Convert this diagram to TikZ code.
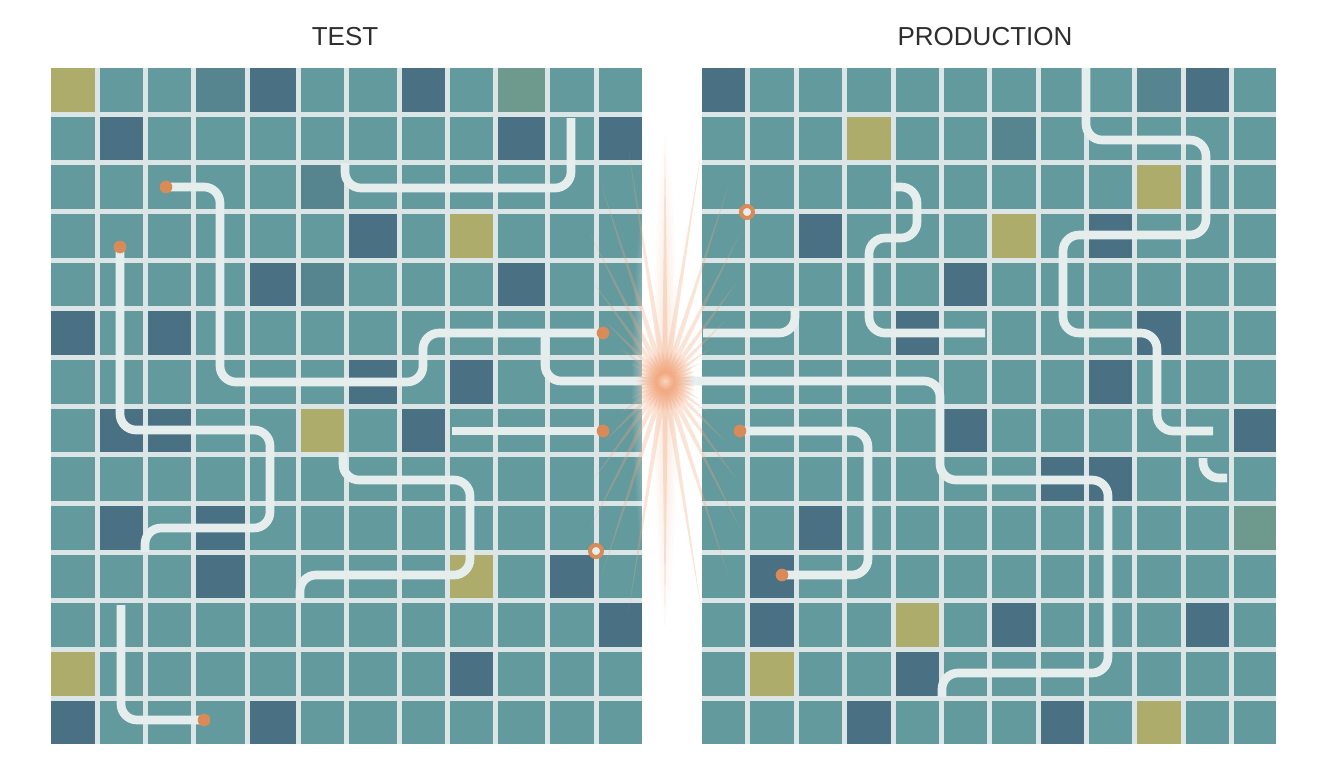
\documentclass[tikz,border=0pt]{standalone}
\usepackage{fontspec}
\setmainfont{Liberation Sans}
\usetikzlibrary{fadings}
\tikzfading[name=myglow, inner color=transparent!0, outer color=transparent!100]
\definecolor{ct}{HTML}{639A9E}
\definecolor{cm}{HTML}{56848F}
\definecolor{cd}{HTML}{4A7083}
\definecolor{co}{HTML}{ADAC6A}
\definecolor{cg}{HTML}{6E9A8E}
\definecolor{gridline}{HTML}{DCE5E6}
\definecolor{pathc}{HTML}{E5EDED}
\definecolor{dotc}{HTML}{D98A57}
\definecolor{rayc}{HTML}{F2A57A}
\definecolor{titlec}{HTML}{2E2E2E}
\def\LX{{48.5,97,145,193,247,298,346,399,447,495,547,596,644.5}}
\def\RX{{699.5,747,796,844,893,941,989,1038,1086,1134,1183,1231,1278.5}}
\newcommand\tilerow[3]{%
  \foreach \tcol [count=\tidx] in {#3} {%
    \pgfmathsetmacro\txa{#1[\tidx-1]+2.5}%
    \pgfmathsetmacro\txb{#1[\tidx]-2.5}%
    \pgfmathsetmacro\tya{65.4+48.67*(#2-1)+2.5}%
    \pgfmathsetmacro\tyb{65.4+48.67*(#2)-2.5}%
    \fill[fill=c\tcol] (\txa,\tya) rectangle (\txb,\tyb);%
  }}
\begin{document}
\begin{tikzpicture}[x=0.75pt,y=-0.75pt,
  conn/.style={draw=pathc,line width=6.5pt,rounded corners=12pt},
  dotn/.style={circle,fill=dotc,inner sep=0pt,minimum size=9.5pt},
  ringn/.style={circle,draw=dotc,line width=3pt,fill=pathc,inner sep=0pt,minimum size=9pt},
  titlen/.style={text=titlec,font=\fontsize{19.5}{22}\selectfont,inner sep=0pt}]
\useasboundingbox (0,0) rectangle (1344,768);
\fill[white] (0,0) rectangle (1344,768);
% grid backgrounds
\fill[gridline] (51,67.9) rectangle (642,744.3);
\fill[gridline] (702,67.9) rectangle (1276,744.3);
% left tiles
\tilerow{\LX}{1}{o,t,t,m,d,t,t,d,t,g,t,t}
\tilerow{\LX}{2}{t,d,t,t,t,t,t,t,t,d,t,d}
\tilerow{\LX}{3}{t,t,t,t,t,m,t,t,t,t,t,t}
\tilerow{\LX}{4}{t,t,t,t,t,t,d,t,o,t,t,t}
\tilerow{\LX}{5}{t,t,t,t,d,m,t,t,t,d,t,t}
\tilerow{\LX}{6}{d,t,d,t,t,t,t,t,t,t,t,t}
\tilerow{\LX}{7}{t,t,t,t,t,t,d,t,d,t,t,t}
\tilerow{\LX}{8}{t,d,d,t,t,o,t,d,t,t,t,t}
\tilerow{\LX}{9}{t,t,t,t,t,t,t,t,t,t,t,t}
\tilerow{\LX}{10}{t,d,t,d,t,t,t,t,t,t,t,t}
\tilerow{\LX}{11}{t,t,t,d,t,t,t,t,o,t,d,t}
\tilerow{\LX}{12}{t,t,t,t,t,t,t,t,t,t,t,d}
\tilerow{\LX}{13}{o,t,t,t,t,t,t,t,d,t,t,t}
\tilerow{\LX}{14}{d,t,t,t,d,t,t,t,t,t,t,t}
% right tiles
\tilerow{\RX}{1}{d,t,t,t,t,t,t,t,t,m,d,t}
\tilerow{\RX}{2}{t,t,t,o,t,t,m,t,t,t,t,t}
\tilerow{\RX}{3}{t,t,t,t,t,t,t,t,t,o,t,t}
\tilerow{\RX}{4}{t,t,d,t,t,t,o,t,d,t,t,t}
\tilerow{\RX}{5}{t,t,t,t,t,d,t,t,t,t,t,t}
\tilerow{\RX}{6}{t,t,t,t,d,t,t,t,t,d,t,t}
\tilerow{\RX}{7}{t,t,t,t,t,t,t,t,d,t,t,t}
\tilerow{\RX}{8}{t,t,t,t,t,d,t,t,t,t,t,d}
\tilerow{\RX}{9}{t,t,t,t,t,t,t,d,d,t,t,t}
\tilerow{\RX}{10}{t,t,d,t,t,t,t,t,t,t,t,g}
\tilerow{\RX}{11}{t,d,t,t,t,t,t,t,t,t,t,t}
\tilerow{\RX}{12}{t,d,t,t,o,t,d,t,t,t,d,t}
\tilerow{\RX}{13}{t,o,t,t,d,t,t,t,t,t,t,t}
\tilerow{\RX}{14}{t,t,t,d,t,t,t,d,t,o,t,t}
% titles
\node[titlen] (ttest) at (345,37) {TEST};
\node[titlen] (tprod) at (985,37) {PRODUCTION};
% dot positions
\coordinate (la) at (166,187);
\coordinate (lc) at (120,247);
\coordinate (lb) at (603,333);
\coordinate (lf) at (603,431);
\coordinate (lh) at (204,720);
\coordinate (lr) at (596,551);
\coordinate (rr) at (747,212);
\coordinate (ra) at (740,431);
\coordinate (rb) at (782,575);
% free ends
\coordinate (bs) at (545,333);
\coordinate (be) at (942,697);
\coordinate (cs) at (145,552);
\coordinate (ds) at (345,163);
\coordinate (de) at (571,118);
\coordinate (fs) at (452,431);
\coordinate (gs) at (343,453);
\coordinate (ge) at (300,600);
\coordinate (hs) at (121,605);
\coordinate (r2s) at (703,333);
\coordinate (r2e) at (795,308);
\coordinate (r3s) at (893,187);
\coordinate (r3e) at (985,333);
\coordinate (r6s) at (1086,68);
\coordinate (r6e) at (1213,431);
\coordinate (r7s) at (1203,458);
\coordinate (r7e) at (1227,478);
% paths left
\draw[conn] (la) -- (220,187) -- (220,382) -- (423,382) -- (423,333) -- (lb);
\draw[conn] (lc) -- (120,430) -- (270,430) -- (270,528) -- (145,528) -- (cs);
\draw[conn] (ds) -- (345,188) -- (571,188) -- (de);
\draw[conn] (fs) -- (lf);
\draw[conn] (gs) -- (343,480) -- (470,480) -- (470,575) -- (300,575) -- (ge);
\draw[conn] (hs) -- (121,720) -- (lh);
% through path
\draw[conn] (bs) -- (545,381) -- (940,381) -- (940,480) -- (1108,480) -- (1108,673) -- (942,673) -- (be);
% paths right
\draw[conn] (ra) -- (868,431) -- (868,575) -- (rb);
\draw[conn] (r2s) -- (795,333) -- (r2e);
\draw[conn] (r3s) -- (917,187) -- (917,238) -- (869,238) -- (869,333) -- (r3e);
\draw[conn] (r6s) -- (1086,140) -- (1206,140) -- (1206,235) -- (1063,235) -- (1063,333) -- (1157,333) -- (1157,431) -- (r6e);
\draw[conn] (r7s) -- (1203,478) -- (r7e);
% burst
\fill[white,path fading=myglow] (665,381) ellipse (34 and 250);
\fill[rayc,opacity=0.3,path fading=myglow] (665,381) ellipse (12 and 240);
\foreach \a in {0,9,...,351} {
  \pgfmathsetmacro\L{30+215*abs(sin(\a))^4}
  \fill[rayc,opacity=0.3,shift={(665,381)}] (\a+90:3) -- (\a:\L) -- (\a-90:3) -- cycle;
}
\fill[rayc,path fading=myglow] (665,381) circle (30);
\fill[white,opacity=0.55,path fading=myglow] (665,381) circle (9);
% dots
\node[dotn] (nla) at (la) {};
\node[dotn] (nlc) at (lc) {};
\node[dotn] (nlb) at (lb) {};
\node[dotn] (nlf) at (lf) {};
\node[dotn] (nlh) at (lh) {};
\node[ringn] (nlr) at (lr) {};
\node[ringn] (nrr) at (rr) {};
\node[dotn] (nra) at (ra) {};
\node[dotn] (nrb) at (rb) {};
\end{tikzpicture}
\end{document}
